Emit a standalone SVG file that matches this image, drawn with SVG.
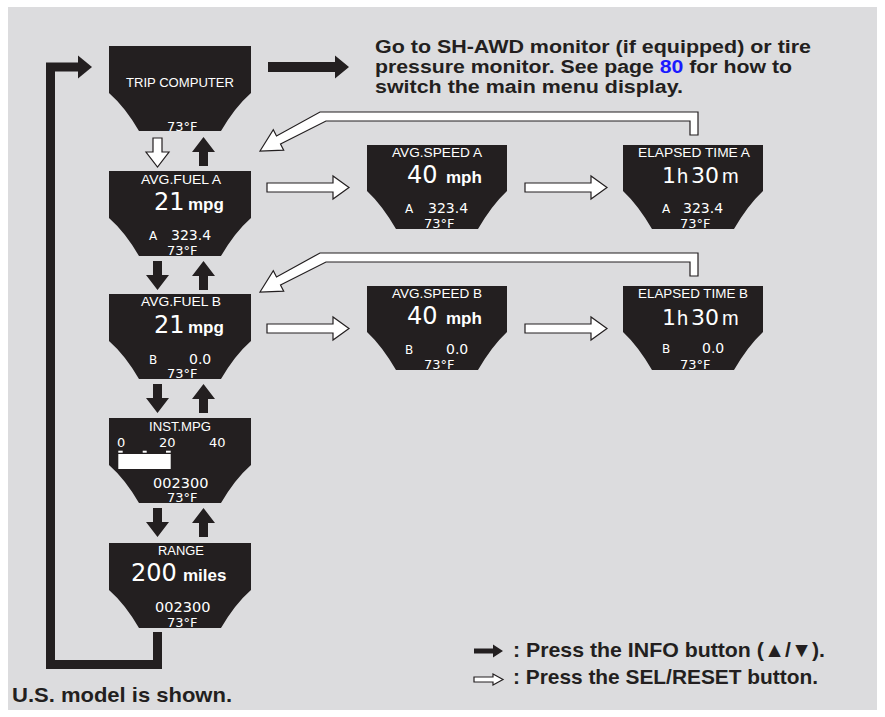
<svg xmlns="http://www.w3.org/2000/svg" xmlns:xlink="http://www.w3.org/1999/xlink" width="885" height="717" viewBox="0 0 885 717">
<style>
.scr{fill:#231f20}
.lbl{font-family:"Liberation Sans",Arial,sans-serif;font-size:12px;fill:#fff}
.num{font-family:"DejaVu Sans",sans-serif;font-size:14px;fill:#fff}
.sm{font-family:"DejaVu Sans",sans-serif;font-size:12px;fill:#fff}
.tmp{font-family:"DejaVu Sans",sans-serif;font-size:13px;fill:#fff}
.big{font-family:"DejaVu Sans",sans-serif;font-size:24px;fill:#fff}
.big2{font-family:"DejaVu Sans",sans-serif;font-size:22px;fill:#fff}
.unit{font-family:"Liberation Sans",Arial,sans-serif;font-weight:bold;font-size:17px;fill:#fff}
.unitr{font-family:"Liberation Sans",Arial,sans-serif;font-size:20px;fill:#fff}
.info{fill:#231f20}
.sel{fill:#fff;stroke:#231f20;stroke-width:1.2}
.txt{font-family:"Liberation Sans",Arial,sans-serif;font-weight:bold;font-size:21px;fill:#231f20}
.note{font-family:"Liberation Sans",Arial,sans-serif;font-weight:bold;font-size:18px;fill:#231f20}
</style>
<defs>
<path id="scrL" d="M0,0 H142 V47 Q126,61 112,85 H30 Q16,61 0,47 Z"/>
<path id="scrR" d="M0,0 H140 V46 Q125,60 111,84 H29 Q15,60 0,46 Z"/>
<path id="dn" d="M-4.5,-29 H4.5 V-15 H11.5 L0,0 L-11.5,-15 H-4.5 Z"/>
<path id="up" d="M-4.5,29 H4.5 V15 H11.5 L0,0 L-11.5,15 H-4.5 Z"/>
<path id="rt" d="M-82,-4.5 H-16 V-11.5 L0,0 L-16,11.5 V4.5 H-82 Z"/>
<path id="ret" d="M698,112 V135 H690 V121 H326 L280.5,144 L283.7,150.2 L260,151 L273.3,129.8 L276.5,136 L320,112 Z"/>
</defs>
<rect width="885" height="717" fill="#fff"/>
<rect x="8" y="7" width="869" height="703" fill="#dcdcde"/>

<g id="connectors">
  <path d="M157.5,632 V664.5 H50.5 V67 H80" fill="none" stroke="#231f20" stroke-width="9"/>
  <path d="M78,55.5 L92,67 L78,78.5 Z" class="info"/>
  <path d="M268,62 H335 V55.5 L349,67 L335,78.5 V72 H268 Z" class="info"/>
  <use xlink:href="#dn" x="157.5" y="167" class="sel"/>
  <use xlink:href="#up" x="203.5" y="137" class="info"/>
  <use xlink:href="#dn" x="157.5" y="290" class="info"/>
  <use xlink:href="#up" x="203.5" y="261" class="info"/>
  <use xlink:href="#dn" x="157.5" y="413" class="info"/>
  <use xlink:href="#up" x="203.5" y="384" class="info"/>
  <use xlink:href="#dn" x="157.5" y="537" class="info"/>
  <use xlink:href="#up" x="203.5" y="508" class="info"/>
  <use xlink:href="#rt" x="349" y="187.5" class="sel"/>
  <use xlink:href="#rt" x="607" y="187.5" class="sel"/>
  <use xlink:href="#rt" x="349" y="328.5" class="sel"/>
  <use xlink:href="#rt" x="607" y="328.5" class="sel"/>
  <use xlink:href="#ret" class="sel"/>
  <use xlink:href="#ret" y="141" class="sel"/>
</g>

<g id="trip">
  <use xlink:href="#scrL" x="109" y="46" class="scr"/>
  <text x="180" y="87" class="lbl" text-anchor="middle" textLength="108" lengthAdjust="spacingAndGlyphs">TRIP COMPUTER</text>
  <text x="167" y="131" class="tmp">73°F</text>
</g>

<g id="avgFuelA">
  <use xlink:href="#scrL" x="109" y="171" class="scr"/>
  <text x="181" y="184" class="lbl" text-anchor="middle" textLength="80" lengthAdjust="spacingAndGlyphs">AVG.FUEL A</text>
  <text x="154" y="210" class="big">21</text>
  <text x="188" y="210" class="unit">mpg</text>
  <text x="149" y="240" class="sm">A</text>
  <text x="171" y="240" class="num">323.4</text>
  <text x="167" y="255" class="tmp">73°F</text>
</g>

<g id="avgFuelB">
  <use xlink:href="#scrL" x="109" y="294" class="scr"/>
  <text x="181" y="306" class="lbl" text-anchor="middle" textLength="80" lengthAdjust="spacingAndGlyphs">AVG.FUEL B</text>
  <text x="154" y="333" class="big">21</text>
  <text x="188" y="333" class="unit">mpg</text>
  <text x="149" y="364" class="sm">B</text>
  <text x="189" y="364" class="num">0.0</text>
  <text x="167" y="378" class="tmp">73°F</text>
</g>

<g id="instMpg">
  <use xlink:href="#scrL" x="109" y="418" class="scr"/>
  <text x="180" y="431" class="lbl" text-anchor="middle" textLength="62" lengthAdjust="spacingAndGlyphs">INST.MPG</text>
  <text x="117" y="447" class="tmp">0</text>
  <text x="159" y="447" class="tmp">20</text>
  <text x="209" y="447" class="tmp">40</text>
  <rect x="118.3" y="450.7" width="4.4" height="2" fill="#fff"/>
  <rect x="142.7" y="450.7" width="4" height="2" fill="#fff"/>
  <rect x="166" y="450.7" width="4.7" height="2" fill="#fff"/>
  <rect x="118.3" y="454" width="52.4" height="15" fill="#fff"/>
  <text x="153" y="488" style="font-family:'DejaVu Sans',sans-serif;font-size:14.5px;fill:#fff">002300</text>
  <text x="167" y="502" class="tmp">73°F</text>
</g>

<g id="range">
  <use xlink:href="#scrL" x="109" y="543" class="scr"/>
  <text x="181" y="555" class="lbl" text-anchor="middle" textLength="46" lengthAdjust="spacingAndGlyphs">RANGE</text>
  <text x="131" y="581" class="big">200</text>
  <text x="183" y="581" class="unit">miles</text>
  <text x="155" y="612" style="font-family:'DejaVu Sans',sans-serif;font-size:14.5px;fill:#fff">002300</text>
  <text x="167" y="627" class="tmp">73°F</text>
</g>

<g id="avgSpeedA">
  <use xlink:href="#scrR" x="367" y="145" class="scr"/>
  <text x="437" y="157" class="lbl" text-anchor="middle" textLength="90" lengthAdjust="spacingAndGlyphs">AVG.SPEED A</text>
  <text x="407" y="183" class="big">40</text>
  <text x="446" y="183" class="unit">mph</text>
  <text x="405" y="213" class="sm">A</text>
  <text x="428" y="213" class="num">323.4</text>
  <text x="424" y="228" class="tmp">73°F</text>
</g>

<g id="elapsedA">
  <use xlink:href="#scrR" x="623" y="145" class="scr"/>
  <text x="694" y="157" class="lbl" text-anchor="middle" textLength="112" lengthAdjust="spacingAndGlyphs">ELAPSED TIME A</text>
  <text y="183"><tspan x="662" class="big2">1</tspan><tspan x="677" class="unitr">h</tspan><tspan x="691" class="big2">30</tspan><tspan x="722" class="unitr">m</tspan></text>
  <text x="662" y="213" class="sm">A</text>
  <text x="683" y="213" class="num">323.4</text>
  <text x="680" y="228" class="tmp">73°F</text>
</g>

<g id="avgSpeedB">
  <use xlink:href="#scrR" x="367" y="286" class="scr"/>
  <text x="437" y="298" class="lbl" text-anchor="middle" textLength="90" lengthAdjust="spacingAndGlyphs">AVG.SPEED B</text>
  <text x="407" y="324" class="big">40</text>
  <text x="446" y="324" class="unit">mph</text>
  <text x="405" y="354" class="sm">B</text>
  <text x="446" y="354" class="num">0.0</text>
  <text x="424" y="369" class="tmp">73°F</text>
</g>

<g id="elapsedB">
  <use xlink:href="#scrR" x="623" y="286" class="scr"/>
  <text x="693" y="298" class="lbl" text-anchor="middle" textLength="110" lengthAdjust="spacingAndGlyphs">ELAPSED TIME B</text>
  <text y="325"><tspan x="662" class="big2">1</tspan><tspan x="677" class="unitr">h</tspan><tspan x="691" class="big2">30</tspan><tspan x="722" class="unitr">m</tspan></text>
  <text x="662" y="353" class="sm">B</text>
  <text x="702" y="353" class="num">0.0</text>
  <text x="680" y="369" class="tmp">73°F</text>
</g>

<g id="note">
  <text x="375" y="52.5" class="note" textLength="436" lengthAdjust="spacingAndGlyphs">Go to SH-AWD monitor (if equipped) or tire</text>
  <text x="375" y="72.5" class="note" textLength="417" lengthAdjust="spacingAndGlyphs">pressure monitor. See page <tspan fill="#1a1aff">80</tspan> for how to</text>
  <text x="375" y="92.5" class="note" textLength="308" lengthAdjust="spacingAndGlyphs">switch the main menu display.</text>
</g>

<g id="legend">
  <path d="M474,648.5 H493 V644.5 L503,651 L493,657.5 V653.5 H474 Z" class="info"/>
  <text x="513" y="657" class="txt" textLength="312" lengthAdjust="spacingAndGlyphs">: Press the INFO button (▲/▼).</text>
  <path d="M474,677 H493 V674 L503,679.5 L493,685 V682 H474 Z" class="sel"/>
  <text x="513" y="684" class="txt" textLength="305" lengthAdjust="spacingAndGlyphs">: Press the SEL/RESET button.</text>
</g>

<g id="footnote">
  <text x="12" y="702" class="txt" textLength="220" lengthAdjust="spacingAndGlyphs">U.S. model is shown.</text>
</g>
</svg>
